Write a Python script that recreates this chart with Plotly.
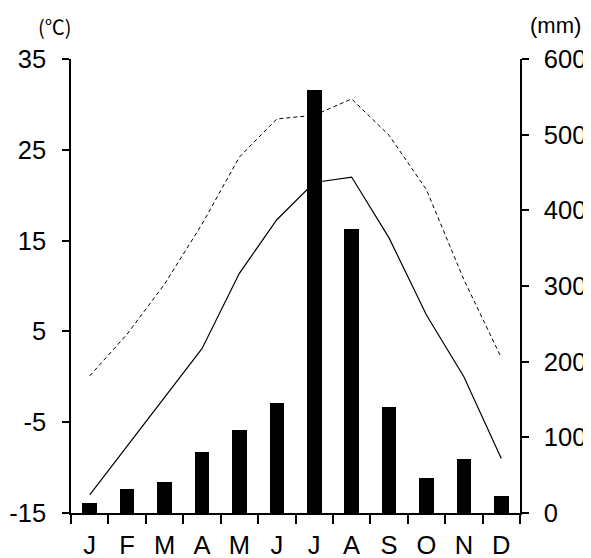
import plotly.graph_objects as go

# ---- data ----
month_keys = ["1", "2", "3", "4", "5", "6", "7", "8", "9", "10", "11", "12"]
month_labels = ["J", "F", "M", "A", "M", "J", "J", "A", "S", "O", "N", "D"]
precip_mm = [13, 32, 41, 81, 110, 145, 559, 375, 140, 46, 72, 23]
temp_mean = [-13.0, -7.6, -2.3, 3.1, 11.4, 17.3, 21.4, 22.0, 15.3, 6.8, 0.0, -9.0]
temp_max = [0.1, 4.7, 10.2, 16.8, 24.2, 28.4, 28.8, 30.6, 26.6, 20.6, 10.7, 2.1]
temp_ticks = [-15, -5, 5, 15, 25, 35]
temp_tick_labels = ["-15", "-5", "5", "15", "25", "35"]
precip_ticks = [0, 100, 200, 300, 400, 500, 600]
precip_tick_labels = ["0", "100", "200", "300", "400", "500", "600"]

FONT = "Arial, Liberation Sans, sans-serif"
FS = 25.5

fig = go.Figure()
fig.add_trace(go.Scatter(x=month_keys, y=temp_max, mode="lines",
                         line=dict(color="black", width=1, dash="4px,3px"),
                         yaxis="y", showlegend=False))
fig.add_trace(go.Scatter(x=month_keys, y=temp_mean, mode="lines",
                         line=dict(color="black", width=1.2),
                         yaxis="y", showlegend=False))
fig.add_trace(go.Bar(x=month_keys, y=precip_mm, width=0.39,
                     marker=dict(color="black", line=dict(width=0)),
                     yaxis="y2", showlegend=False))

fig.update_layout(
    width=583, height=550,
    margin=dict(l=62.5, r=70.5, t=51, b=45, pad=0),
    paper_bgcolor="white", plot_bgcolor="white",
    font=dict(family=FONT, color="black", size=FS),
    xaxis=dict(type="category", categoryorder="array", categoryarray=month_keys,
               tickmode="array", tickvals=month_keys, ticktext=month_labels,
               range=[-0.5, 11.5], tickson="boundaries", automargin=False,
               ticks="outside", ticklen=9, tickwidth=1.5, tickcolor="black",
               showline=True, linecolor="black", linewidth=1.5,
               showgrid=False, zeroline=False,
               tickfont=dict(family=FONT, size=FS, color="black"),
               ticklabelstandoff=9),
    yaxis=dict(range=[-15, 35], tickmode="array", tickvals=temp_ticks,
               ticktext=temp_tick_labels, automargin=False,
               ticks="outside", ticklen=7, tickwidth=1.5, tickcolor="black",
               showline=True, linecolor="black", linewidth=1.5,
               showgrid=False, zeroline=False,
               tickfont=dict(family=FONT, size=FS, color="black"),
               ticklabelstandoff=11),
    yaxis2=dict(range=[0, 600], tickmode="array", tickvals=precip_ticks,
                ticktext=precip_tick_labels, automargin=False,
                overlaying="y", side="right",
                ticks="outside", ticklen=7, tickwidth=1.5, tickcolor="black",
                showline=True, linecolor="black", linewidth=1.5,
                showgrid=False, zeroline=False,
                tickfont=dict(family=FONT, size=FS, color="black"),
                ticklabelstandoff=10),
    bargap=0,
    annotations=[
        dict(text="(℃)", xref="paper", yref="paper", x=-0.0367, y=1.0705,
             xanchor="center", yanchor="middle", showarrow=False,
             font=dict(family="Noto Sans CJK JP", size=20, color="black")),
        dict(text="(mm)", xref="paper", yref="paper", x=1.078, y=1.0727,
             xanchor="center", yanchor="middle", showarrow=False,
             font=dict(family=FONT, size=22, color="black")),
    ],
)

fig.write_html("out.html")
